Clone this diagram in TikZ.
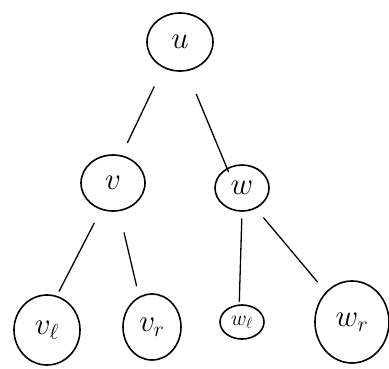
\documentclass[tikz,border=0pt]{standalone}
\usepackage{graphicx}
\usetikzlibrary{shapes.geometric}
\newcommand{\lbl}[1]{\scalebox{1.25}{$#1$}}
\begin{document}
\begin{tikzpicture}[x=1pt,y=-1pt,
  vert/.style={draw, ellipse, line width=1.6pt, inner sep=0pt, font=\fontsize{24}{24}\selectfont},
  edge/.style={line width=1.3pt, line cap=round}]
\useasboundingbox (0,0) rectangle (389,368);
\node[vert, minimum width=66pt, minimum height=58pt] (u) at (180,42) {\lbl{u}};
\node[vert, minimum width=64pt, minimum height=56pt] (v) at (113,183) {\lbl{v}};
\node[vert, minimum width=54pt, minimum height=46pt] (w) at (242,188) {\lbl{w}};
\node[vert, minimum width=66pt, minimum height=70pt] (vl) at (47,330) {\lbl{v_\ell}};
\node[vert, minimum width=58pt, minimum height=66pt] (vr) at (152,327) {\lbl{v_r}};
\node[vert, minimum width=44pt, minimum height=34pt, font=\fontsize{17}{17}\selectfont] (wl) at (242,322) {\lbl{w_\ell}};
\node[vert, minimum width=74pt, minimum height=82pt] (wr) at (352,322) {\lbl{w_r}};
\draw[edge, shorten <=21pt, shorten >=14pt] (u.237) -- (v.73);
\draw[edge, shorten <=25pt, shorten >=-4pt] (u.283) -- (w.127);
\draw[edge, shorten <=15pt, shorten >=5pt] (v.246) -- (vl.74);
\draw[edge, shorten <=22pt, shorten >=11pt] (v.282) -- (vr.113);
\draw[edge, shorten <=7pt, shorten >=3pt] (w.270) -- (wl.99);
\draw[edge, shorten <=12pt, shorten >=13pt] (w.304) -- (wr.131);
\end{tikzpicture}
\end{document}
